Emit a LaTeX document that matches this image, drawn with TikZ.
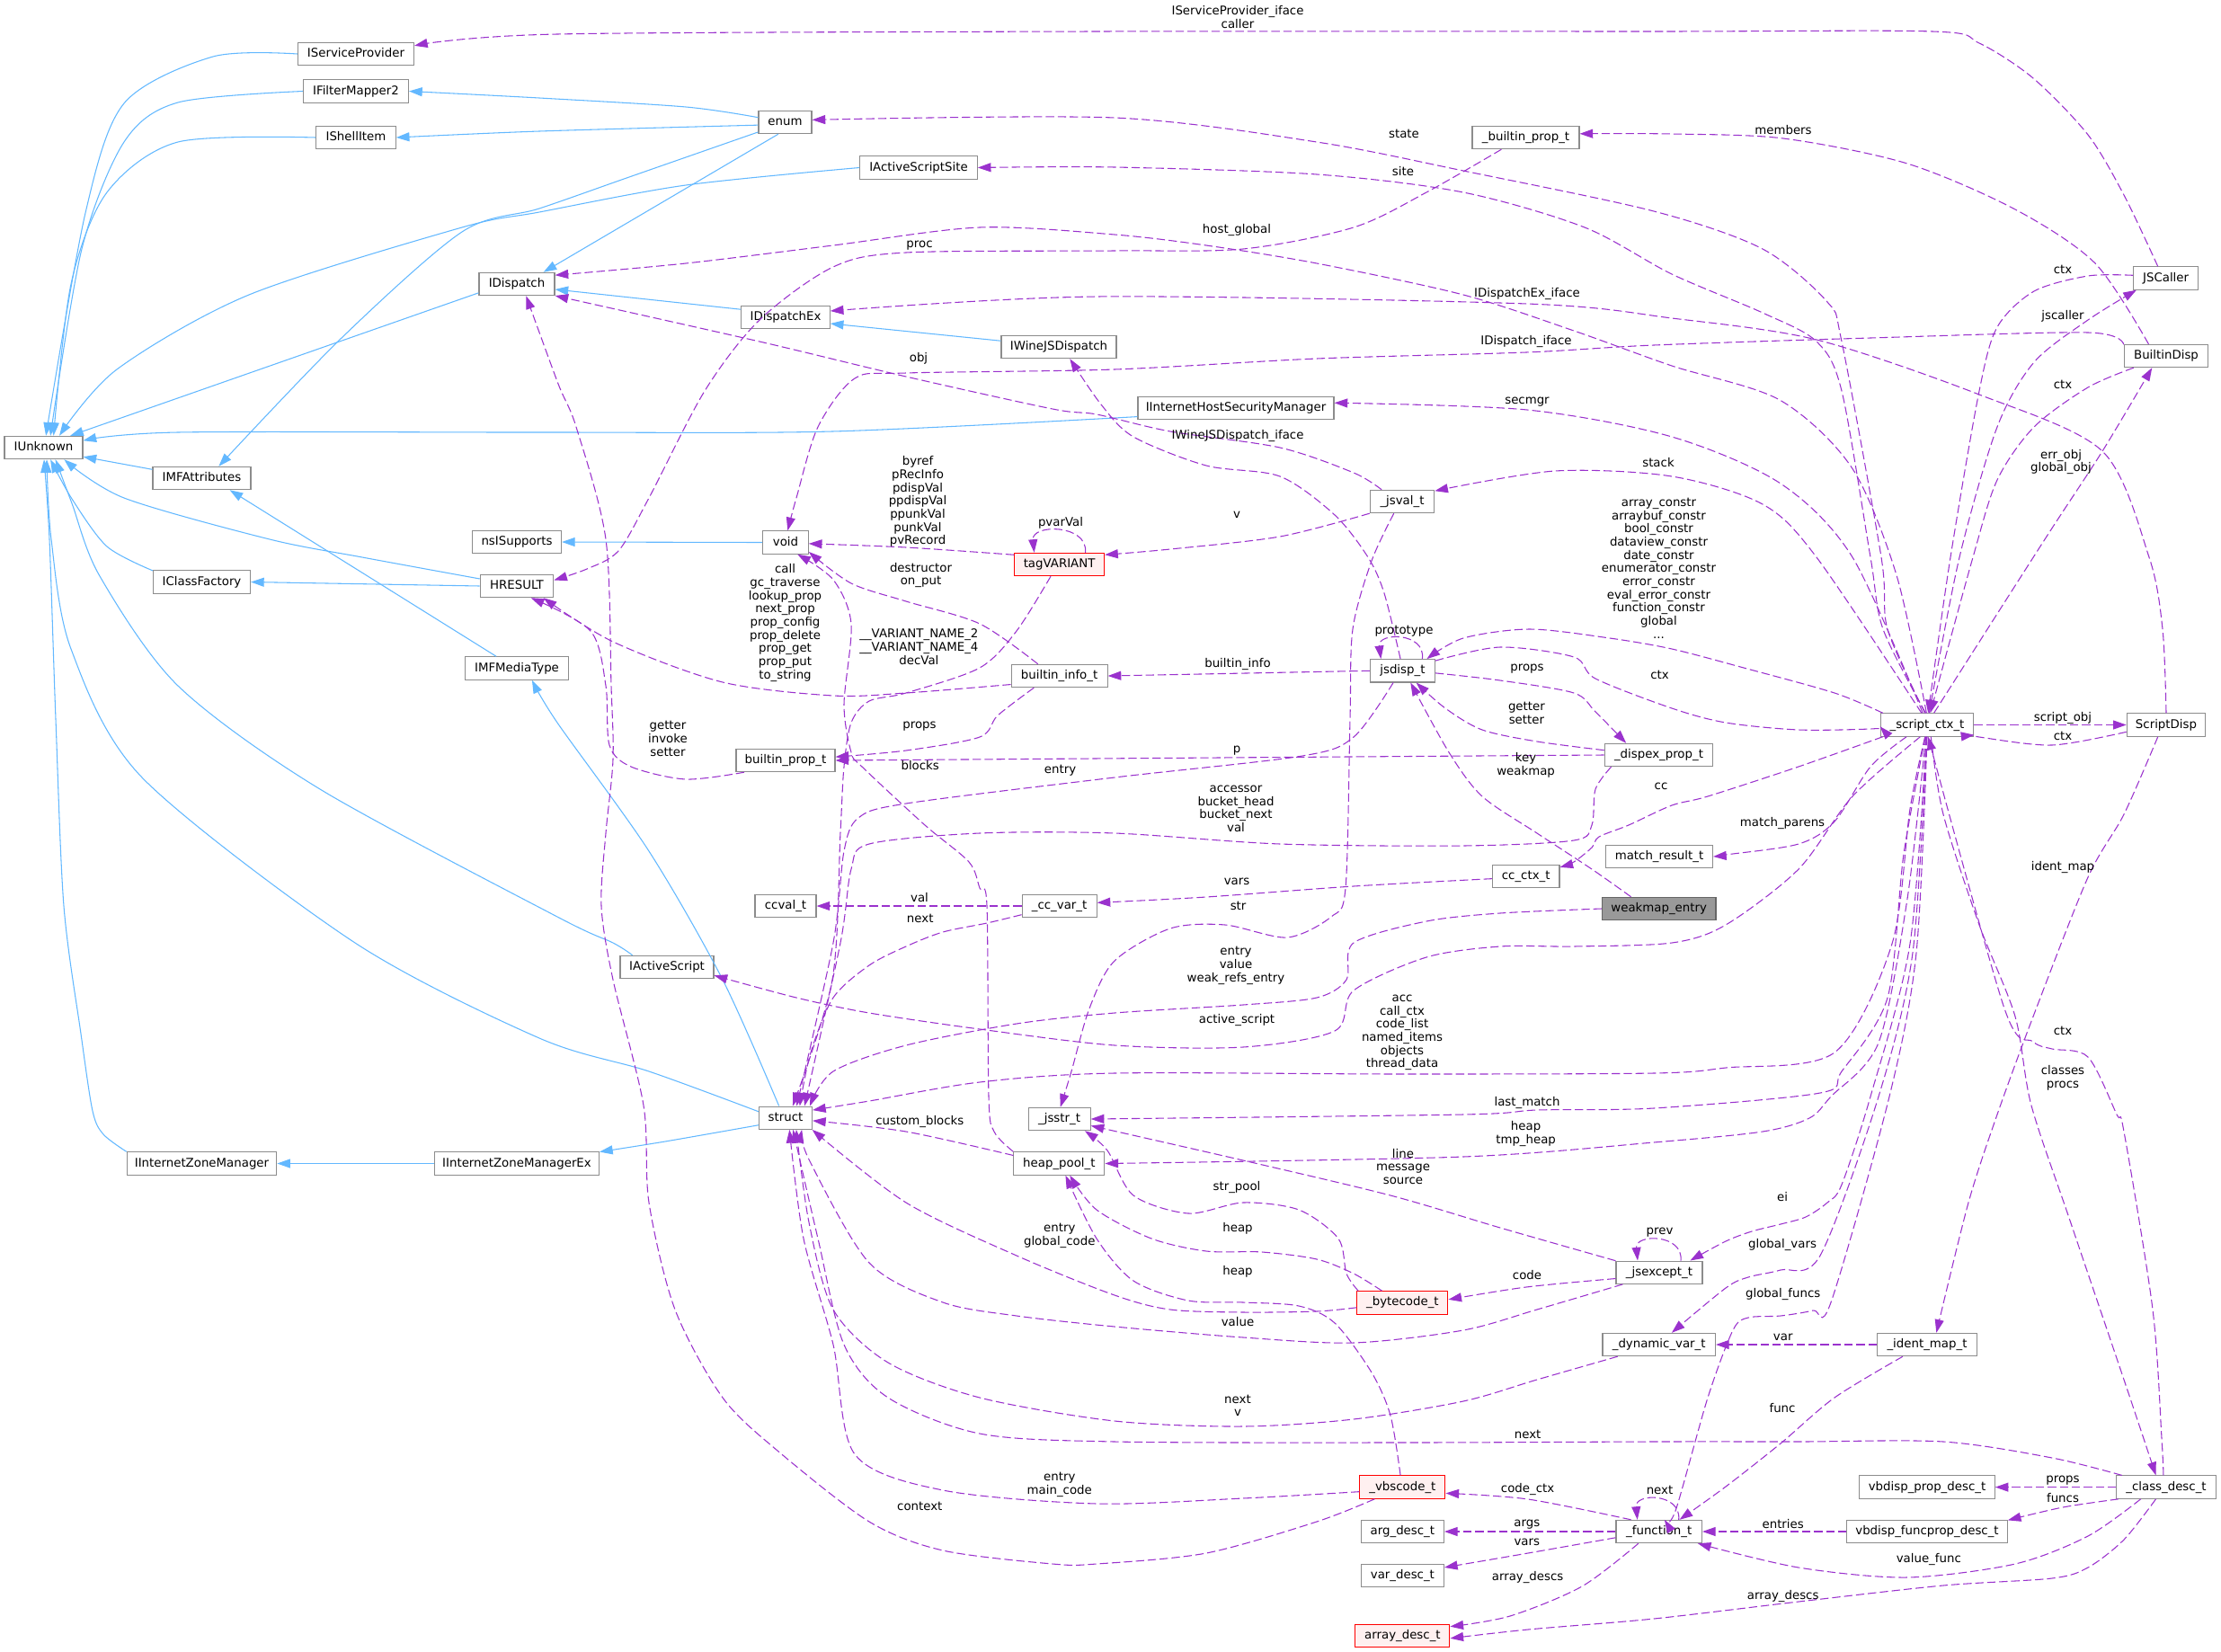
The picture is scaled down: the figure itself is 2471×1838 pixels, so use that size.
\documentclass[tikz,border=0pt]{standalone}
\usepackage{fontspec}
\setmainfont{DejaVu Sans}
\usetikzlibrary{arrows.meta,calc}
\definecolor{nodegray}{HTML}{8C8C8C}
\definecolor{inhblue}{HTML}{63B8FF}
\definecolor{usepurple}{HTML}{9A32CD}
\definecolor{truncpink}{HTML}{FFF0F0}
\definecolor{focusfill}{HTML}{999999}
\definecolor{focusgray}{HTML}{666666}
\newcommand{\dgfont}{\fontsize{10}{11}\selectfont}
\begin{document}
\begin{tikzpicture}[x=.75pt,y=-.75pt,
 cls/.style={draw=nodegray,fill=white,line width=.8pt,minimum width=#1*.75pt,minimum height=19pt,inner xsep=2pt,inner ysep=0pt,text height=7.4pt,text depth=2.1pt,font=\dgfont},
 trunc/.style={cls=#1,draw=red,fill=truncpink},
 focus/.style={cls=#1,draw=focusgray,fill=focusfill},
 inh/.style={draw=inhblue,line width=.8pt,-{Triangle[length=11pt,width=7.5pt]}},
 use/.style={draw=usepurple,line width=.8pt,dash pattern=on 7pt off 3pt,-{Triangle[length=11pt,width=7.5pt]}},
 lbl/.style={font=\dgfont,align=center,inner sep=0pt}]
\useasboundingbox (0,0) rectangle (2471,1838);
\node[cls=87] (IUnknown) at (48.5,498) {IUnknown};
\node[cls=109] (IMFAttributes) at (224.5,532) {IMFAttributes};
\node[cls=108] (IClassFactory) at (224.5,647.5) {IClassFactory};
\node[cls=166.5] (IIZM) at (224.5,1294.5) {IInternetZoneManager};
\node[cls=129] (IServiceProvider) at (396,60) {IServiceProvider};
\node[cls=117] (IFilterMapper2) at (396,101.5) {IFilterMapper2};
\node[cls=88.5] (IShellItem) at (396,153) {IShellItem};
\node[cls=84] (IDispatch) at (575,316) {IDispatch};
\node[cls=99] (nsISupports) at (575,603) {nsISupports};
\node[cls=81.5] (HRESULT) at (575,652) {HRESULT};
\node[cls=115.5] (IMFMediaType) at (575,743.5) {IMFMediaType};
\node[cls=183] (IIZMEx) at (575,1294.5) {IInternetZoneManagerEx};
\node[cls=104] (IActiveScript) at (742,1076) {IActiveScript};
\node[cls=59] (enum) at (873.5,136) {enum};
\node[cls=98.5] (IDispatchEx) at (874,353) {IDispatchEx};
\node[cls=50.5] (void) at (874,603.5) {void};
\node[cls=110] (builtinprop) at (874,846) {builtin\_prop\_t};
\node[cls=68] (ccval) at (874,1008) {ccval\_t};
\node[cls=59] (struct) at (874,1243.7) {struct};
\node[cls=130.5] (IActiveScriptSite) at (1022,186.5) {IActiveScriptSite};
\node[cls=128] (IWineJSDispatch) at (1178,386) {IWineJSDispatch};
\node[trunc=100] (tagVARIANT) at (1178.6,628) {tagVARIANT};
\node[cls=107] (builtininfo) at (1178.6,752) {builtin\_info\_t};
\node[cls=83] (ccvar) at (1178.6,1008) {\_cc\_var\_t};
\node[cls=69] (jsstr) at (1178.6,1245) {\_jsstr\_t};
\node[cls=101] (heappool) at (1178.4,1294.5) {heap\_pool\_t};
\node[cls=218] (IIHSM) at (1375,454) {IInternetHostSecurityManager};
\node[cls=71.5] (jsval) at (1560,558) {\_jsval\_t};
\node[cls=72] (jsdisp) at (1560.4,746.3) {jsdisp\_t};
\node[trunc=101] (bytecode) at (1560.4,1449.4) {\_bytecode\_t};
\node[trunc=95] (vbscode) at (1560.4,1654.6) {\_vbscode\_t};
\node[cls=92] (argdesc) at (1560.4,1704) {arg\_desc\_t};
\node[cls=92] (vardesc) at (1560.4,1753) {var\_desc\_t};
\node[trunc=105] (arraydesc) at (1560.4,1820) {array\_desc\_t};
\node[cls=119] (ubuiltinprop) at (1697.5,153) {\_builtin\_prop\_t};
\node[cls=74.5] (ccctx) at (1697.7,975) {cc\_ctx\_t};
\node[cls=120.5] (dispexprop) at (1845.5,840) {\_dispex\_prop\_t};
\node[cls=119] (matchresult) at (1846,953) {match\_result\_t};
\node[focus=126.5] (weakmap) at (1845.7,1011) {weakmap\_entry};
\node[cls=96] (jsexcept) at (1846,1415.7) {\_jsexcept\_t};
\node[cls=125.5] (dynvar) at (1845.7,1496) {\_dynamic\_var\_t};
\node[cls=95.5] (function) at (1845.7,1704) {\_function\_t};
\node[cls=103.7] (scriptctx) at (2144,806.5) {\_script\_ctx\_t};
\node[cls=111] (identmap) at (2144,1496) {\_ident\_map\_t};
\node[cls=150.5] (vbprop) at (2144,1654.6) {vbdisp\_prop\_desc\_t};
\node[cls=178.5] (vbfuncprop) at (2144,1704) {vbdisp\_funcprop\_desc\_t};
\node[cls=72] (JSCaller) at (2409.6,309.5) {JSCaller};
\node[cls=93.5] (BuiltinDisp) at (2410,396) {BuiltinDisp};
\node[cls=87.5] (ScriptDisp) at (2410,806.5) {ScriptDisp};
\node[cls=110.5] (classdesc) at (2410,1654.6) {\_class\_desc\_t};

\draw[inh] plot[smooth] coordinates {(IServiceProvider.west) (237,63) (138,115) (95,237) (IUnknown.79)};
\draw[inh] plot[smooth] coordinates {(IFilterMapper2.west) (198,114) (138,158) (91,277) (IUnknown.60)};
\draw[inh] plot[smooth] coordinates {(IShellItem.west) (198,158) (119,214) (79,316) (IUnknown.50)};
\draw[inh] plot[smooth] coordinates {(IActiveScriptSite.west) (763,206) (600,236) (514,253) (277,328) (130,411) (IUnknown.37)};
\draw[inh] (IDispatch.193)--(IUnknown.24);
\draw[inh] plot[smooth] coordinates {(IIHSM.185) (926,480) (600,481) (198,481) (IUnknown.10)};
\draw[inh] (IMFAttributes.170)--(IUnknown.347);
\draw[inh] plot[smooth] coordinates {(HRESULT.169) (403,620) (300,600) (138,554) (IUnknown.330)};
\draw[inh] plot[smooth] coordinates {(IClassFactory.167) (119,608) (80,555) (IUnknown.300)};
\draw[inh] plot[smooth] coordinates {(IActiveScript.161) (682,1049) (620,1020) (356,878) (198,763) (111,641) (80,560) (IUnknown.315)};
\draw[inh] plot[smooth] coordinates {(struct.167) (722,1192) (600,1155) (395,1049) (158,865) (79,722) (57,600) (IUnknown.285)};
\draw[inh] plot[smooth] coordinates {(IIZM.north west) (115,1262) (103,1236) (90,1150) (71,1008) (62,800) (55,600) (IUnknown.272)};
\draw[inh] (IIZMEx.west)--(IIZM.east);
\draw[inh] plot[smooth] coordinates {(struct.195) (740,1270) (IIZMEx.8)};
\draw[inh] plot[smooth] coordinates {(enum.170) (763,119) (600,109) (IFilterMapper2.east)};
\draw[inh] plot[smooth] coordinates {(enum.186) (600,146) (IShellItem.east)};
\draw[inh] plot[smooth] coordinates {(enum.200) (700,197) (600,232) (514,258) (380,376) (IMFAttributes.35)};
\draw[inh] (enum.240)--(IDispatch.24);
\draw[inh] (IDispatchEx.170)--(IDispatch.352);
\draw[inh] (IWineJSDispatch.174)--(IDispatchEx.352);
\draw[inh] (void.west)--(nsISupports.east);
\draw[inh] (IMFMediaType.150)--(IMFAttributes.337);
\draw[inh] plot[smooth] coordinates {(struct.119) (804,1090) (722,947) (620,804) (IMFMediaType.322)};
\draw[inh] (HRESULT.west)--(IClassFactory.east);

\draw[use] plot[smooth] coordinates {(JSCaller.124) (2363,217) (2323,150) (2262,87) (2202,48) (2150,35) (1840,35) (1220,35) (620,38) (IServiceProvider.8)};
\draw[use] plot[smooth] coordinates {(scriptctx.100) (2100,700) (2093,620) (2049,380) (2033,336) (1961,277) (1840,235) (1628,190) (1465,158) (1240,131) (enum.5)};
\draw[use] plot[smooth] coordinates {(scriptctx.97) (2095,700) (2081,620) (2049,435) (2021,380) (1961,348) (1860,305) (1763,253) (1628,214) (1465,194) (1240,186) (IActiveScriptSite.east)};
\draw[use] plot[smooth] coordinates {(BuiltinDisp.146) (2331,293) (2242,233) (2122,182) (1984,154) (1860,149) (ubuiltinprop.4)};
\draw[use] plot[smooth] coordinates {(ubuiltinprop.206) (1587,214) (1506,253) (1383,277) (1240,279) (1008,281) (927,297) (845,356) (784,435) (722,554) (688,613) (653,633) (HRESULT.9)};
\draw[use] plot[smooth] coordinates {(scriptctx.93) (2110,640) (2060,520) (1980,445) (1860,407) (1751,368) (1628,328) (1465,293) (1342,273) (1240,261) (1090,253) (927,273) (763,293) (IDispatch.13)};
\draw[use] plot[smooth] coordinates {(ScriptDisp.north) (2406,700) (2391,620) (2339,502) (2202,439) (2021,378) (1860,354) (1699,338) (1220,330) (IDispatchEx.8)};
\draw[use] plot[smooth] coordinates {(BuiltinDisp.165) (2323,370) (2081,376) (1840,384) (1698,392) (1465,399) (1240,411) (1008,415) (951,421) (910,475) (886,554) (void.80)};
\draw[use] plot[smooth] coordinates {(scriptctx.110) (2061,620) (1981,538) (1860,486) (1699,456) (IIHSM.3)};
\draw[use] plot[smooth] coordinates {(scriptctx.115) (2021,620) (1961,561) (1860,530) (1730,524) (jsval.18)};
\draw[use] plot[smooth] coordinates {(jsval.150) (1506,526) (1424,498) (1302,480) (1220,461) (1171,455) (1008,419) (845,380) (IDispatch.343)};
\draw[use] plot[smooth] coordinates {(jsdisp.100) (1540,660) (1522,620) (1485,573) (1424,530) (1342,518) (1261,486) (1225,450) (IWineJSDispatch.313)};
\draw[use] plot[smooth] coordinates {(jsval.south west) (1424,597) (1302,611) (tagVARIANT.12)};
\draw[use] plot[smooth] coordinates {(jsval.235) (1526,624) (1505,700) (1502,800) (1497,988) (1481,1020) (1432,1043) (1363,1029) (1302,1033) (1240,1069) (1212,1122) (1192,1192) (jsstr.85)};
\draw[use] plot[smooth] coordinates {(tagVARIANT.168) (1008,609) (void.357)};
\draw[use] ($(tagVARIANT.north)+(29,0)$) .. controls +(3,-32) and +(-3,-32) .. ($(tagVARIANT.north)+(-28,0)$);
\draw[use] plot[smooth] coordinates {(tagVARIANT.234) (1131,702) (1090,743) (1008,771) (967,780) (947,804) (939,853) (935,926) (926,1090) (struct.59)};
\draw[use] plot[smooth] coordinates {(builtininfo.190) (1008,771) (927,774) (804,759) (682,714) (HRESULT.336)};
\draw[use] plot[smooth] coordinates {(builtininfo.151) (1090,694) (1008,669) (947,649) (void.338)};
\draw[use] plot[smooth] coordinates {(builtininfo.205) (1110,796) (1090,820) (1008,835) (builtinprop.4)};
\draw[use] plot[smooth] coordinates {(builtinprop.196) (763,867) (702,853) (678,829) (674,763) (657,702) (HRESULT.320)};
\draw[use] (jsdisp.west)--(builtininfo.east);
\draw[use] ($(jsdisp.north)+(22,0)$) .. controls +(4,-30) and +(-4,-30) .. ($(jsdisp.north)+(-24,0)$);
\draw[use] plot[smooth] coordinates {(scriptctx.165) (2041,771) (1940,743) (1860,722) (1791,710) (1702,700) (1628,710) (jsdisp.26)};
\draw[use] plot[smooth] coordinates {(jsdisp.17) (1669,720) (1751,731) (1775,755) (1860,788) (1920,804) (2001,812) (2081,811) (scriptctx.182)};
\draw[use] plot[smooth] coordinates {(jsdisp.356) (1669,757) (1751,771) (1775,792) (dispexprop.160)};
\draw[use] plot[smooth] coordinates {(dispexprop.175) (1710,825) (1649,812) (1608,788) (jsdisp.319)};
\draw[use] plot[smooth] coordinates {(weakmap.157) (1771,967) (1710,927) (1649,886) (1612,837) (jsdisp.304)};
\draw[use] plot[smooth] coordinates {(dispexprop.194) (1775,878) (1771,918) (1751,935) (1628,941) (1424,939) (1240,927) (1090,927) (967,939) (947,967) (935,1049) (struct.32)};
\draw[use] plot[smooth] coordinates {(jsdisp.232) (1506,820) (1449,841) (1240,865) (1008,894) (955,910) (939,947) (927,1049) (struct.47)};
\draw[use] (dispexprop.west)--(builtinprop.east);
\draw[use] plot[smooth] coordinates {(weakmap.west) (1669,1016) (1587,1025) (1506,1049) (1498,1090) (1465,1110) (1383,1118) (1240,1127) (1131,1139) (1008,1163) (927,1192) (struct.26)};
\draw[use] (ccvar.west)--(ccval.east);
\draw[use] plot[smooth] coordinates {(ccvar.193) (1098,1027) (1049,1037) (1008,1053) (967,1074) (927,1110) (902,1171) (struct.40)};
\draw[use] plot[smooth] coordinates {(ccctx.184) (1506,986) (1342,998) (ccvar.5)};
\draw[use] plot[smooth] coordinates {(scriptctx.195) (2001,853) (1900,886) (1860,896) (1812,918) (1779,931) (1771,943) (1751,959) (ccctx.15)};
\draw[use] plot[smooth] coordinates {(scriptctx.210) (2081,853) (2041,914) (2001,939) (1920,951) (matchresult.east)};
\draw[use] plot[smooth] coordinates {(scriptctx.260) (2125,900) (2105,1050) (2041,1171) (1920,1188) (1840,1194) (1560,1195) (1240,1194) (1090,1204) (967,1225) (struct.16)};
\draw[use] plot[smooth] coordinates {(scriptctx.240) (2061,886) (2001,967) (1920,1029) (1860,1049) (1751,1053) (1669,1053) (1587,1065) (1506,1102) (1485,1147) (1383,1165) (1240,1163) (1090,1145) (967,1127) (886,1110) (IActiveScript.350)};
\draw[use] plot[smooth] coordinates {(scriptctx.262) (2118,950) (2100,1110) (2049,1192) (2025,1216) (1840,1233) (1710,1235) (1628,1240) (jsstr.east)};
\draw[use] plot[smooth] coordinates {(scriptctx.264) (2122,1000) (2090,1160) (2037,1220) (2013,1244) (1961,1259) (1840,1271) (1628,1287) (heappool.east)};
\draw[use] plot[smooth] coordinates {(scriptctx.266) (2125,1050) (2081,1220) (2049,1318) (2033,1338) (2009,1354) (1981,1362) (1949,1370) (1920,1381) (jsexcept.21)};
\draw[use] plot[smooth] coordinates {(scriptctx.268) (2128,1060) (2090,1220) (2025,1397) (1981,1413) (1945,1421) (1920,1433) (dynvar.43)};
\draw[use] plot[smooth] coordinates {(scriptctx.270) (2132,1060) (2102,1220) (2037,1449) (2017,1458) (1981,1464) (1945,1466) (1928,1480) (1900,1555) (1864,1681) (function.65)};
\draw[use] plot[smooth] coordinates {(scriptctx.288) (2162,906) (2202,1029) (2242,1131) (2260,1230) (2303,1358) (2363,1535) (classdesc.131)};
\draw[use] plot[smooth] coordinates {(classdesc.103) (2405,1600) (2395,1457) (2363,1259) (2355,1240) (2323,1176) (2283,1167) (2262,1159) (2230,1122) (scriptctx.275)};
\draw[use] plot[smooth] coordinates {(ScriptDisp.235) (2363,906) (2323,976) (2262,1131) (2222,1240) (2190,1338) (identmap.52)};
\draw[use] (scriptctx.east)--(ScriptDisp.west);
\draw[use] plot[smooth] coordinates {(ScriptDisp.190) (2283,829) (2202,820) (scriptctx.348)};
\draw[use] plot[smooth] coordinates {(scriptctx.80) (2180,620) (2222,475) (2263,403) (2323,356) (JSCaller.202)};
\draw[use] plot[smooth] coordinates {(JSCaller.175) (2323,307) (2263,324) (2222,364) (2202,435) (2170,620) (scriptctx.85)};
\draw[use] plot[smooth] coordinates {(BuiltinDisp.200) (2323,431) (2263,475) (2222,534) (2195,620) (scriptctx.75)};
\draw[use] plot[smooth] coordinates {(scriptctx.60) (2275,600) (2339,502) (BuiltinDisp.220)};
\draw[use] plot[smooth] coordinates {(heappool.north west) (1106,1259) (1100,1220) (1098,1008) (1090,988) (1078,959) (1029,918) (959,853) (947,837) (939,784) (947,694) (927,645) (void.315)};
\draw[use] plot[smooth] coordinates {(heappool.170) (1008,1259) (struct.354)};
\draw[use] plot[smooth] coordinates {(jsexcept.188) (1698,1432) (bytecode.4)};
\draw[use] plot[smooth] coordinates {(jsexcept.198) (1710,1457) (1628,1480) (1506,1494) (1383,1488) (1240,1476) (1131,1464) (1049,1449) (967,1405) (900,1290) (struct.324)};
\draw[use] plot[smooth] coordinates {(jsexcept.165) (1669,1366) (1547,1330) (1383,1291) (jsstr.348)};
\draw[use] plot[smooth] coordinates {(bytecode.165) (1498,1417) (1489,1378) (1445,1346) (1383,1338) (1322,1350) (1261,1330) (1232,1280) (jsstr.335)};
\draw[use] plot[smooth] coordinates {(bytecode.150) (1506,1417) (1465,1401) (1404,1393) (1342,1392) (1281,1378) (1220,1346) (heappool.312)};
\draw[use] plot[smooth] coordinates {(vbscode.100) (1547,1575) (1526,1527) (1485,1472) (1445,1453) (1383,1449) (1322,1447) (1261,1425) (1220,1378) (heappool.298)};
\draw[use] plot[smooth] coordinates {(bytecode.186) (1465,1459) (1383,1460) (1302,1457) (1240,1441) (1131,1397) (1008,1338) (struct.336)};
\draw[use] plot[smooth] coordinates {(dynvar.196) (1710,1535) (1628,1559) (1506,1579) (1383,1587) (1240,1581) (1090,1555) (988,1516) (927,1457) (900,1360) (struct.312)};
\draw[use] plot[smooth] coordinates {(classdesc.165) (2283,1622) (2162,1604) (2001,1604) (1840,1604) (1560,1605) (1240,1604) (1090,1595) (988,1555) (939,1496) (910,1378) (struct.302)};
\draw[use] plot[smooth] coordinates {(vbscode.186) (1383,1667) (1220,1673) (1049,1658) (951,1618) (927,1496) (894,1378) (struct.288)};
\draw[use] plot[smooth] coordinates {(vbscode.203) (1465,1693) (1342,1728) (1220,1740) (1171,1740) (1049,1725) (967,1693) (865,1614) (804,1555) (751,1457) (722,1338) (716,1230) (682,1090) (669,1008) (674,927) (682,845) (680,763) (674,600) (641,475) (621,427) (IDispatch.308)};
\draw[use] plot[smooth] coordinates {(function.157) (1700,1668) (vbscode.352)};
\draw[use] (function.west)--(argdesc.east);
\draw[use] plot[smooth] coordinates {(function.188) (1700,1728) (vardesc.11)};
\draw[use] plot[smooth] coordinates {(function.210) (1760,1765) (1680,1798) (arraydesc.11)};
\draw[use] plot[smooth] coordinates {(classdesc.229) (2363,1713) (2323,1744) (2283,1756) (2162,1764) (2001,1782) (1840,1801) (1700,1813) (arraydesc.357)};
\draw[use] plot[smooth] coordinates {(classdesc.205) (2323,1709) (2242,1740) (2122,1755) (2001,1744) (function.343)};
\draw[use] (vbfuncprop.west)--(function.east);
\draw[use] (classdesc.west)--(vbprop.east);
\draw[use] plot[smooth] coordinates {(classdesc.194) (2295,1677) (vbfuncprop.8)};
\draw[use] (identmap.west)--(dynvar.east);
\draw[use] plot[smooth] coordinates {(identmap.206) (2041,1555) (1981,1606) (1920,1654) (function.30)};
\draw[use] ($(jsexcept.north)+(24,0)$) .. controls +(3,-30) and +(-3,-30) .. ($(jsexcept.north)+(-24,0)$);
\draw[use] ($(function.north)+(22,0)$) .. controls +(3,-30) and +(-3,-30) .. ($(function.north)+(-24,0)$);

\node[lbl] (lIspIface) at (1377,19) {IServiceProvider\_iface\\caller};
\node[lbl] (lState) at (1562,149) {state};
\node[lbl] (lSite) at (1561,191) {site};
\node[lbl] (lMembers) at (1984,145) {members};
\node[lbl] (lHostGlobal) at (1376,256) {host\_global};
\node[lbl] (lProc) at (1023,273) {proc};
\node[lbl] (lDispExIface) at (1699,327) {IDispatchEx\_iface};
\node[lbl] (lDispIface) at (1698,380) {IDispatch\_iface};
\node[lbl] (lObj) at (1022,399) {obj};
\node[lbl] (lSecmgr) at (1699,447) {secmgr};
\node[lbl] (lWineIface) at (1377,485) {IWineJSDispatch\_iface};
\node[lbl] (lStack) at (1845,515) {stack};
\node[lbl] (lV) at (1376,573) {v};
\node[lbl] (lByref) at (1021,558) {byref\\pRecInfo\\pdispVal\\ppdispVal\\ppunkVal\\punkVal\\pvRecord};
\node[lbl] (lPvarVal) at (1180,582) {pvarVal};
\node[lbl] (lJsCtx) at (2295,300) {ctx};
\node[lbl] (lJscaller) at (2295,352) {jscaller};
\node[lbl] (lBdCtx) at (2295,428) {ctx};
\node[lbl] (lErrObj) at (2293,514) {err\_obj\\global\_obj};
\node[lbl] (lConstr) at (1845.5,632) {array\_constr\\arraybuf\_constr\\bool\_constr\\dataview\_constr\\date\_constr\\enumerator\_constr\\error\_constr\\eval\_error\_constr\\function\_constr\\global\\...};
\node[lbl] (lCall) at (873.5,693) {call\\gc\_traverse\\lookup\_prop\\next\_prop\\prop\_config\\prop\_delete\\prop\_get\\prop\_put\\to\_string};
\node[lbl] (lDestr) at (1024.5,640) {destructor\\on\_put};
\node[lbl] (lVariant) at (1022.4,719.5) {\_\_VARIANT\_NAME\_2\\\_\_VARIANT\_NAME\_4\\decVal};
\node[lbl] (lPrototype) at (1562,702) {prototype};
\node[lbl] (lBuiltinInfo) at (1377,739) {builtin\_info};
\node[lbl] (lJsProps) at (1699,744) {props};
\node[lbl] (lDispCtx) at (1846.5,751) {ctx};
\node[lbl] (lGetterSetter) at (1698.4,793.5) {getter\\setter};
\node[lbl] (lGetInvSet) at (743,822) {getter\\invoke\\setter};
\node[lbl] (lInfoProps) at (1023,808) {props};
\node[lbl] (lP) at (1376,835.5) {p};
\node[lbl] (lKeyWeak) at (1697.6,851) {key\\weakmap};
\node[lbl] (lBlocks) at (1023.7,852) {blocks};
\node[lbl] (lEntry) at (1179.6,856.7) {entry};
\node[lbl] (lCc) at (1848,875) {cc};
\node[lbl] (lAccessor) at (1375,900) {accessor\\bucket\_head\\bucket\_next\\val};
\node[lbl] (lMatchParens) at (1983,916) {match\_parens};
\node[lbl] (lScriptObj) at (2295,799) {script\_obj};
\node[lbl] (lSdCtx) at (2295,819) {ctx};
\node[lbl] (lIdentMap) at (2295,964.5) {ident\_map};
\node[lbl] (lVars) at (1376,980.4) {vars};
\node[lbl] (lVal) at (1023,999) {val};
\node[lbl] (lStr) at (1377.6,1008) {str};
\node[lbl] (lCcNext) at (1023.7,1022.4) {next};
\node[lbl] (lWeakEntry) at (1375,1074.3) {entry\\value\\weak\_refs\_entry};
\node[lbl] (lActiveScript) at (1376,1134.7) {active\_script};
\node[lbl] (lAcc) at (1560,1149) {acc\\call\_ctx\\code\_list\\named\_items\\objects\\thread\_data};
\node[lbl] (lCdCtx) at (2295,1147) {ctx};
\node[lbl] (lClasses) at (2295,1199) {classes\\procs};
\node[lbl] (lLastMatch) at (1699,1227) {last\_match};
\node[lbl] (lCustomBlocks) at (1023.3,1248.4) {custom\_blocks};
\node[lbl] (lHeap) at (1697.6,1261.6) {heap\\tmp\_heap};
\node[lbl] (lLine) at (1561,1298) {line\\message\\source};
\node[lbl] (lStrPool) at (1376,1320.5) {str\_pool};
\node[lbl] (lEi) at (1983,1331.5) {ei};
\node[lbl] (lBcHeap) at (1377,1366.6) {heap};
\node[lbl] (lPrev) at (1846.5,1371) {prev};
\node[lbl] (lGlobalCode) at (1178.8,1375) {entry\\global\_code};
\node[lbl] (lGlobalVars) at (1983,1385) {global\_vars};
\node[lbl] (lVbHeap) at (1377,1414.7) {heap};
\node[lbl] (lCode) at (1699,1418.3) {code};
\node[lbl] (lGlobalFuncs) at (1983.7,1439.5) {global\_funcs};
\node[lbl] (lValue) at (1377,1471) {value};
\node[lbl] (lVar) at (1983.7,1487.6) {var};
\node[lbl] (lNextV) at (1377,1563.8) {next\\v};
\node[lbl] (lFunc) at (1983,1566.5) {func};
\node[lbl] (lCdNext) at (1699.6,1595.6) {next};
\node[lbl] (lProps) at (2295,1647) {props};
\node[lbl] (lMainCode) at (1178.8,1652) {entry\\main\_code};
\node[lbl] (lCodeCtx) at (1699.6,1656.7) {code\_ctx};
\node[lbl] (lFnNext) at (1846.5,1658.3) {next};
\node[lbl] (lFuncs) at (2295,1666.6) {funcs};
\node[lbl] (lContext) at (1023.3,1676) {context};
\node[lbl] (lArgs) at (1698.8,1696) {args};
\node[lbl] (lEntries) at (1983.7,1695.8) {entries};
\node[lbl] (lVars2) at (1698.8,1716) {vars};
\node[lbl] (lValueFunc) at (2145.8,1735.2) {value\_func};
\node[lbl] (lArrDescs) at (1699.6,1755) {array\_descs};
\node[lbl] (lArrDescs2) at (1983.7,1775.8) {array\_descs};
\end{tikzpicture}
\end{document}
